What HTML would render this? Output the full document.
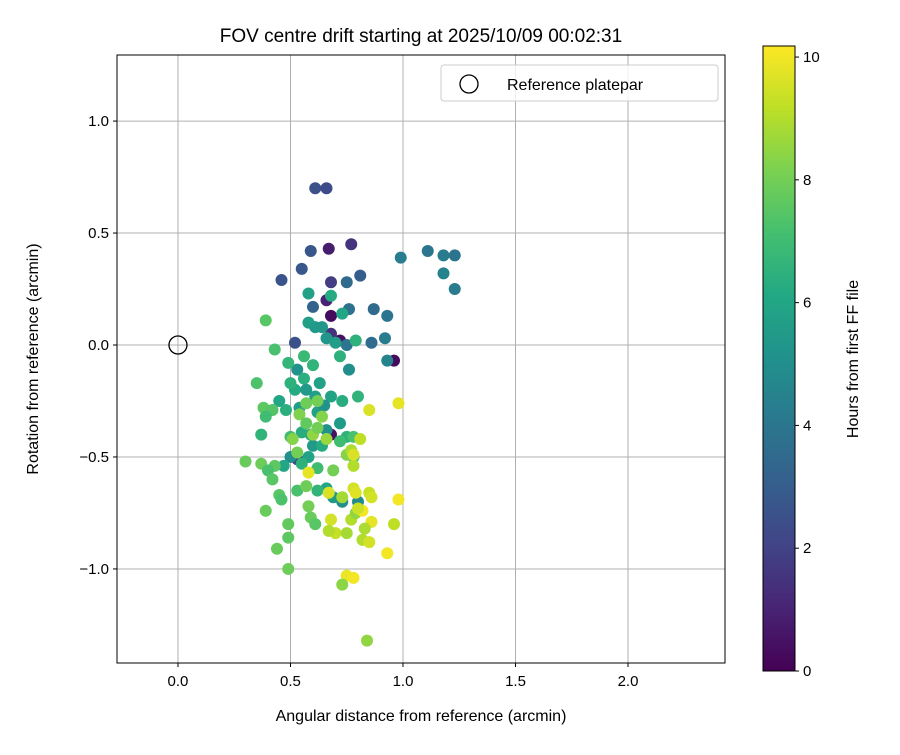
<!DOCTYPE html>
<html><head><meta charset="utf-8"><style>
body{margin:0;background:#fff}
svg text{font-family:"Liberation Sans",sans-serif;fill:#000}
</style></head><body>
<svg id="chart" width="900" height="750"></svg>
<script>
const xVals=[0.61,0.66,0.59,0.55,0.46,0.77,0.67,0.68,0.81,0.75,0.60,0.66,0.68,0.76,0.87,0.93,0.99,1.11,1.18,1.23,1.18,1.23,0.52,0.72,0.68,0.86,0.92,0.96,0.93,0.75,0.76,0.68,0.53,
0.58,0.68,0.73,0.58,0.61,0.64,0.66,0.70,0.79,0.72,0.60,0.56,0.53,0.49,0.56,0.63,0.68,0.73,0.80,0.61,0.52,0.50,0.57,0.45,0.48,0.54,0.62,0.65,0.72,0.66,0.59,0.55,0.50,0.60,0.64,0.58,0.50,0.47,0.55,0.62,0.75,0.78,0.72,0.78,0.66,0.62,0.69,0.73,0.80,0.53,0.45,0.46,
0.39,0.43,0.35,0.38,0.42,0.39,0.37,0.43,0.37,0.30,0.40,0.42,0.39,0.44,0.49,0.49,0.49,0.58,0.59,0.61,0.57,0.53,0.51,0.54,0.57,0.62,0.64,0.57,0.66,0.60,0.62,0.69,0.75,0.77,0.78,0.73,0.77,0.79,0.81,0.85,0.98,0.58,0.67,0.68,0.70,0.67,0.75,0.78,0.79,0.82,0.80,0.85,0.86,0.86,0.83,0.82,0.85,0.93,0.96,0.98,0.75,0.78,0.73,0.84,0.78];
const yVals=[0.70,0.70,0.42,0.34,0.29,0.45,0.43,0.28,0.31,0.28,0.17,0.20,0.13,0.16,0.16,0.13,0.39,0.42,0.40,0.40,0.32,0.25,0.01,0.02,0.05,0.01,0.03,-0.07,-0.07,0.00,-0.11,-0.40,-0.51,
0.23,0.22,0.14,0.10,0.08,0.08,0.03,0.01,0.02,-0.05,-0.09,-0.05,-0.11,-0.08,-0.15,-0.17,-0.23,-0.25,-0.23,-0.23,-0.20,-0.17,-0.20,-0.25,-0.29,-0.28,-0.30,-0.27,-0.35,-0.38,-0.40,-0.39,-0.41,-0.45,-0.45,-0.50,-0.50,-0.54,-0.53,-0.55,-0.41,-0.41,-0.43,-0.50,-0.64,-0.65,-0.68,-0.70,-0.70,-0.65,-0.67,-0.69,
0.11,-0.02,-0.17,-0.28,-0.29,-0.32,-0.40,-0.54,-0.53,-0.52,-0.56,-0.60,-0.74,-0.91,-0.86,-0.80,-1.00,-0.72,-0.77,-0.80,-0.63,-0.48,-0.42,-0.31,-0.26,-0.25,-0.32,-0.35,-0.42,-0.40,-0.37,-0.56,-0.49,-0.47,-0.54,-0.68,-0.78,-0.75,-0.42,-0.29,-0.26,-0.57,-0.66,-0.78,-0.84,-0.83,-0.84,-0.64,-0.66,-0.74,-0.73,-0.66,-0.68,-0.79,-0.82,-0.87,-0.88,-0.93,-0.80,-0.69,-1.03,-1.04,-1.07,-1.32,-0.49];
const hours=[2.5,2.3,2.7,2.8,2.6,1.5,0.8,1.8,3.0,3.5,3.2,1.0,0.3,3.8,3.5,4.0,4.3,4.0,4.2,3.9,4.5,4.2,2.5,0.5,1.5,3.6,4.2,0.3,4.6,4.0,5.0,0.5,2.0,
5.8,6.2,6.0,5.7,5.5,5.4,5.3,5.6,6.5,6.5,6.6,6.8,5.2,6.7,6.4,5.8,5.9,6.3,6.6,5.7,6.2,6.5,5.5,6.0,6.4,5.6,5.8,5.2,5.5,5.1,6.0,6.3,7.0,5.5,6.2,5.9,5.0,6.0,6.5,7.0,6.5,7.2,7.0,7.2,6.0,6.6,5.5,5.0,4.8,7.2,7.5,7.3,
7.5,7.2,7.3,7.6,7.4,7.0,6.6,7.6,7.9,7.8,7.2,7.5,7.8,7.8,7.6,7.7,7.9,8.0,7.8,7.5,7.9,8.0,8.3,8.2,7.9,8.0,8.3,7.7,8.6,8.5,8.0,8.0,8.3,8.9,9.0,8.8,9.0,8.5,9.2,9.6,9.8,9.8,9.6,9.5,9.3,9.0,8.8,9.5,9.7,10.0,9.4,9.3,9.5,9.8,8.9,9.0,9.5,10.0,9.2,10.0,9.9,10.0,8.4,8.5,9.6];
const xTicks=[0,0.5,1,1.5,2], xTickLabels=["0.0","0.5","1.0","1.5","2.0"];
const yTicks=[-1,-0.5,0,0.5,1], yTickLabels=["\u22121.0","\u22120.5","0.0","0.5","1.0"];
const cTicks=[0,2,4,6,8,10];

const L=117,T=55,W=608,H=608,X0=-0.271,X1=2.431,Y0=-1.42,Y1=1.295;
const sx=v=>L+(v-X0)/(X1-X0)*W, sy=v=>T+H-(v-Y0)/(Y1-Y0)*H;
const CB={x:763,y:46,w:32,h:625,max:10.18};
const cy=v=>CB.y+CB.h-v/CB.max*CB.h;
const vir=["#440154","#482475","#414487","#355f8d","#2a788e","#21918c","#22a884","#44bf70","#7ad151","#bddf26","#fde725"];
function hex(h){return [1,3,5].map(i=>parseInt(h.substr(i,2),16));}
function color(t){t=Math.max(0,Math.min(1,t))*10;const i=Math.min(9,Math.floor(t)),f=t-i;const a=hex(vir[i]),b=hex(vir[i+1]);return "rgb("+a.map((v,k)=>Math.round(v+(b[k]-v)*f)).join(",")+")";}
const svg=document.getElementById('chart');const NS="http://www.w3.org/2000/svg";
function mk(tag,attrs,parent){const e=document.createElementNS(NS,tag);for(const k in attrs)e.setAttribute(k,attrs[k]);(parent||svg).appendChild(e);return e;}
function txt(s,attrs){const e=mk('text',attrs);e.textContent=s;return e;}
xTicks.forEach((v,i)=>{
const g=mk('line',{x1:sx(v),x2:sx(v),y1:T,y2:T+H,stroke:"#b0b0b0","stroke-width":1});


const tk=mk('line',{x1:sx(v),x2:sx(v),y1:T+H,y2:T+H+4,stroke:"#000"});


const t=txt(xTickLabels[i],{x:sx(v),y:T+H+23,"font-size":15,"text-anchor":"middle"});


});
yTicks.forEach((v,i)=>{
const g=mk('line',{x1:L,x2:L+W,y1:sy(v),y2:sy(v),stroke:"#b0b0b0","stroke-width":1});


const tk=mk('line',{x1:L-4,x2:L,y1:sy(v),y2:sy(v),stroke:"#000"});


const t=txt(yTickLabels[i],{x:L-8,y:sy(v)+5,"font-size":15,"text-anchor":"end"});


});
hours.forEach((h,i)=>{
const c=mk('circle',{cx:sx(xVals[i]),cy:sy(yVals[i]),r:6,fill:color(h/CB.max)});


});
const ref=mk('circle',{cx:sx(0),cy:sy(0),r:9,fill:"none",stroke:"#000","stroke-width":1.3});


const fr=mk('rect',{x:L,y:T,width:W,height:H,fill:"none",stroke:"#000","stroke-width":1});


const lg=mk('rect',{x:441,y:65,width:277,height:36,rx:3,fill:"#fff","fill-opacity":0.8,stroke:"#ccc"});


const lc=mk('circle',{cx:469,cy:84,r:9,fill:"none",stroke:"#000","stroke-width":1.3});


const lt=txt("Reference platepar",{x:507,y:90,"font-size":16});


const ti=txt("FOV centre drift starting at 2025/10/09 00:02:31",{x:421,y:42,"font-size":19,"text-anchor":"middle"});


const xl=txt("Angular distance from reference (arcmin)",{x:421,y:721,"font-size":16,"text-anchor":"middle"});


const yl=txt("Rotation from reference (arcmin)",{x:0,y:0,"font-size":16,"text-anchor":"middle",transform:"translate(38,359) rotate(-90)"});


const defs=mk('defs',{});const gr=mk('linearGradient',{id:"vg",x1:0,y1:1,x2:0,y2:0},defs);
vir.forEach((c,i)=>mk('stop',{offset:i/10,"stop-color":c},gr));
const cb=mk('rect',{x:CB.x,y:CB.y,width:CB.w,height:CB.h,fill:"url(#vg)",stroke:"#000","stroke-width":1});


cTicks.forEach(v=>{
const tk=mk('line',{x1:CB.x+CB.w,x2:CB.x+CB.w+4,y1:cy(v),y2:cy(v),stroke:"#000"});


const t=txt(String(v),{x:CB.x+CB.w+8,y:cy(v)+5,"font-size":15});


});
const cl=txt("Hours from first FF file",{x:0,y:0,"font-size":16,"text-anchor":"middle",transform:"translate(858,359) rotate(-90)"});


</script>
</body></html>
